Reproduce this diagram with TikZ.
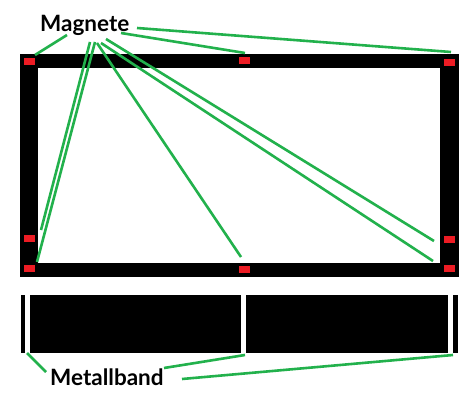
\documentclass[tikz,border=0pt]{standalone}
\usepackage{fontspec}
\setmainfont{Lato}
\begin{document}
\begin{tikzpicture}[x=1pt,y=-1pt,
  magnet/.style={fill={rgb,255:red,237;green,28;blue,36}, draw=none, minimum width=11pt, minimum height=7pt, inner sep=0pt, outer sep=0pt},
  lead/.style={draw={rgb,255:red,34;green,177;blue,76}, line width=2.6pt},
  lbl/.style={font=\bfseries\fontsize{22.5}{24}\selectfont, inner sep=0pt, anchor=base west}]
\useasboundingbox (0,0) rectangle (473,414);
\fill[white] (0,0) rectangle (473,414);
% frame
\fill[black] (20,54) rectangle (459,277);
\fill[white] (38,68) rectangle (440,263);
% metal band
\fill[black] (21,295) rectangle (25,353);
\fill[black] (30,295) rectangle (241,353);
\fill[black] (246,295) rectangle (448,353);
\fill[black] (453,295) rectangle (458,353);
% magnets
\node[magnet] (tl) at (29.5,61.5) {};
\node[magnet] (tm) at (244.5,60.5) {};
\node[magnet] (tr) at (449.5,62.5) {};
\node[magnet] (lm) at (29.5,238.5) {};
\node[magnet] (bl) at (29.5,268.5) {};
\node[magnet] (bm) at (244.5,269.5) {};
\node[magnet] (rm) at (449.5,239.5) {};
\node[magnet] (br) at (449.5,268.5) {};
% labels
\node[lbl] (mag) at (40,32) {Magnete};
\node[lbl] (met) at (50,385) {Metallband};
% line endpoints
\coordinate (a1) at (67,35);  \coordinate (e1) at (35,55);
\coordinate (a2) at (121,33); \coordinate (e2) at (245,53);
\coordinate (a3) at (137,28); \coordinate (e3) at (451,52);
\coordinate (a4) at (90,42);  \coordinate (e4) at (41,230);
\coordinate (a5) at (95,42);  \coordinate (e5) at (37,262);
\coordinate (a6) at (97,43);  \coordinate (e6) at (241,257);
\coordinate (a7) at (106,39); \coordinate (e7) at (434,241);
\coordinate (a8) at (101,43); \coordinate (e8) at (433,261);
\coordinate (b1) at (46,372); \coordinate (f1) at (27,353);
\coordinate (b2) at (164,368); \coordinate (f2) at (245,355);
\coordinate (b3) at (182,379); \coordinate (f3) at (453,355);
\foreach \i in {1,...,8} {\draw[lead] (a\i) -- (e\i);}
\foreach \i in {1,2,3} {\draw[lead] (b\i) -- (f\i);}
\end{tikzpicture}
\end{document}
